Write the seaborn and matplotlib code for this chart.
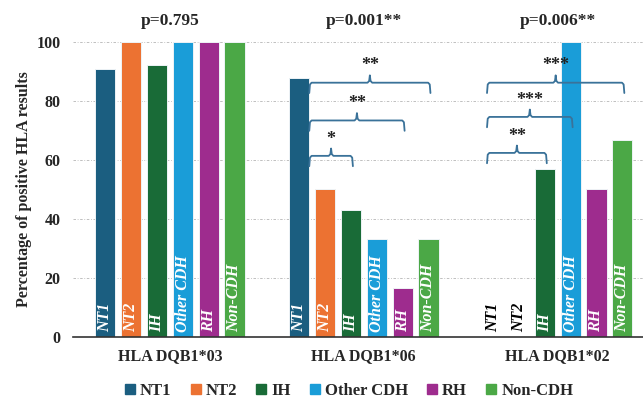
import numpy as np
import pandas as pd
import matplotlib
matplotlib.use("Agg")
import matplotlib.pyplot as plt
import seaborn as sns

# data
alleles = ['HLA DQB1*03', 'HLA DQB1*06', 'HLA DQB1*02']
groups = ['NT1', 'NT2', 'IH', 'Other CDH', 'RH', 'Non-CDH']
dqb1_03 = [90.9, 100, 92.3, 100, 100, 100]
dqb1_06 = [87.9, 50.0, 42.9, 33.3, 16.7, 33.3]
dqb1_02 = [0, 0, 57.1, 100, 50.0, 66.7]
p_values = ['p=0.795', 'p=0.001**', 'p=0.006**']
colors = ['#1B5E80', '#EC7232', '#196B37', '#1A9DD8', '#9E2C8E', '#4BA846']

# pairwise comparisons: (allele index, group a, group b, height, stars)
comparisons = [
    (1, 'NT1', 'IH', 61.4, '*'),
    (1, 'NT1', 'RH', 73.4, '**'),
    (1, 'NT1', 'Non-CDH', 86.2, '**'),
    (2, 'NT1', 'IH', 62.4, '**'),
    (2, 'NT1', 'Other CDH', 74.6, '***'),
    (2, 'NT1', 'Non-CDH', 86.2, '***'),
]

rows = []
for a, vals in zip(alleles, [dqb1_03, dqb1_06, dqb1_02]):
    for g, v in zip(groups, vals):
        rows.append({'allele': a, 'group': g, 'pct': v})
df = pd.DataFrame(rows)

sns.set_style('white')
plt.rcParams['font.family'] = ['Liberation Serif', 'DejaVu Serif']
plt.rcParams['font.weight'] = 'bold'

fig = plt.figure(figsize=(6.43, 4.01), dpi=100)
ax = fig.add_axes([0.1135, 0.1596, 0.8865, 0.7357])

sns.barplot(data=df, x='allele', y='pct', hue='group', hue_order=groups,
            order=alleles, palette=colors, saturation=1, width=0.8, gap=0.22,
            edgecolor='#EEF3F6', linewidth=0.7, ax=ax, zorder=3, legend=False)

ax.set_ylim(0, 100)
ax.set_xlim(-0.5, 2.44)
ax.set_yticks([0, 20, 40, 60, 80, 100])
ax.yaxis.grid(True, color='#B5B5B5', linestyle=(0, (3, 2, 1, 2)), linewidth=0.6, zorder=0)
ax.xaxis.grid(False)
for s in ['top', 'right', 'left']:
    ax.spines[s].set_visible(False)
ax.spines['bottom'].set_color('#333333')
ax.spines['bottom'].set_linewidth(1.2)
ax.spines['bottom'].set_zorder(5)
ax.tick_params(axis='both', length=0, labelsize=11.5)
ax.tick_params(axis='x', pad=8)
ax.tick_params(axis='y', pad=9)
for t in ax.get_xticklabels() + ax.get_yticklabels():
    t.set_fontweight('bold')
ax.set_xlabel('')
ax.set_ylabel('Percentage of positive HLA results', fontsize=11.5, fontweight='bold', labelpad=3)

# bar centres per group, per allele
centers = {}
widths = {}
for g, cont in zip(groups, ax.containers):
    for i, bar in enumerate(cont):
        centers[(i, g)] = bar.get_x() + bar.get_width() / 2
        widths[(i, g)] = bar.get_width()
        v = bar.get_height()
        ax.text(centers[(i, g)], 1.8, g, rotation=90, ha='center', va='bottom',
                fontsize=11.5, fontstyle='italic', fontweight='bold',
                color='white' if v > 0 else 'black', zorder=6)

# p-values above each allele
for i, p in enumerate(p_values):
    ax.text(i, 104.5, p, ha='center', va='bottom', fontsize=12.5, fontweight='bold', clip_on=False)

# curly-brace brackets
bcol = '#3A7299'
for i, ga, gb, y, stars in comparisons:
    if i == 1:
        x0 = centers[(i, ga)] + widths[(i, ga)] / 2
    else:
        x0 = centers[(i, ga)] - widths[(i, ga)] * 0.3
    x1 = centers[(i, gb)] + widths[(i, gb)] * 0.1
    xm = (x0 + x1) / 2
    h, pk, r = 3.5, 2.5, 0.012
    xs = [x0, x0 + r * 0.3, x0 + r, xm - r, xm - r * 0.3, xm, xm + r * 0.3, xm + r,
          x1 - r, x1 - r * 0.3, x1]
    ys = [y - h, y - 0.6, y, y, y + 0.6, y + pk, y + 0.6, y, y, y - 0.6, y - h]
    ax.plot(xs, ys, color=bcol, linewidth=1.3, zorder=7, solid_joinstyle='round')
    ax.text(xm, y + pk + 0.3, stars, ha='center', va='bottom', fontsize=13,
            fontweight='bold', color='#222222', zorder=8)

# legend along the bottom
handles = [plt.Line2D([], [], marker='s', linestyle='', markersize=7,
                      markerfacecolor=c, markeredgecolor=c) for c in colors]
leg = fig.legend(handles, groups, loc='center', bbox_to_anchor=(0.543, 0.025), ncol=6,
                 frameon=False, handlelength=0.6, handletextpad=0.3, columnspacing=1.15,
                 prop={'family': 'Liberation Serif', 'weight': 'bold', 'size': 12})

fig.savefig('out.png', dpi=100)
